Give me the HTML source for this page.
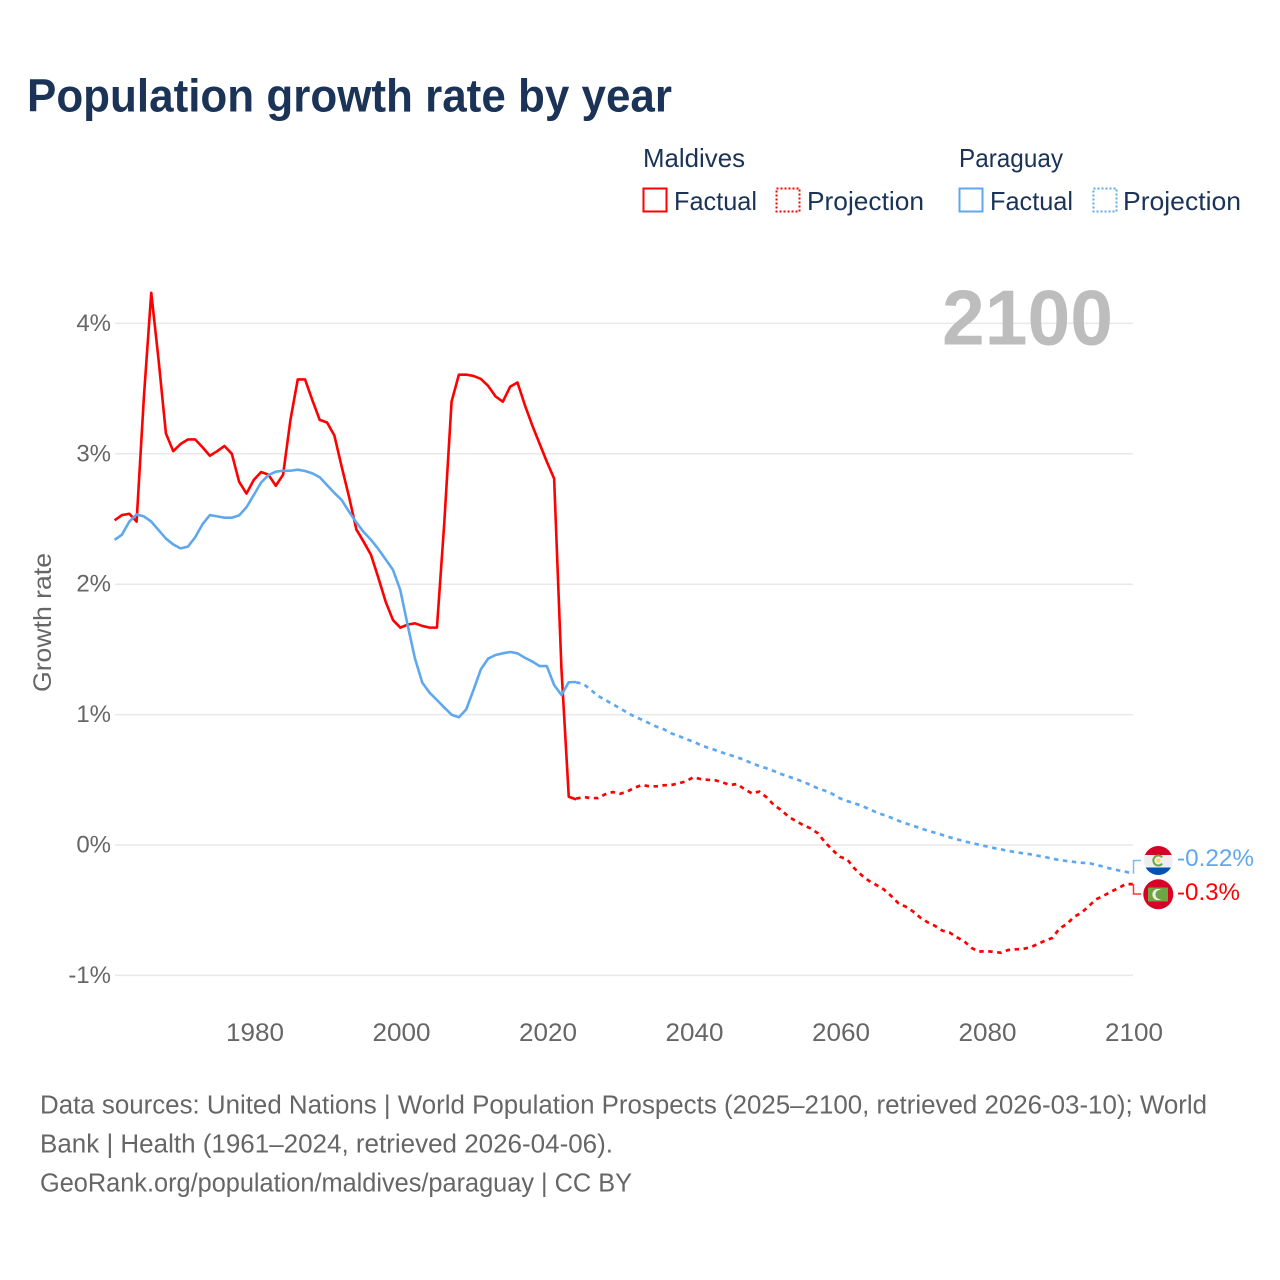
<!DOCTYPE html>
<html lang="en">
<head>
<meta charset="utf-8">
<title>Population growth rate by year</title>
<style>
html,body{margin:0;padding:0;background:#fff;width:1280px;height:1280px;overflow:hidden}
svg{display:block}
text{font-family:"Liberation Sans",sans-serif}
</style>
</head>
<body>
<svg id="chart" width="1280" height="1280" viewBox="0 0 1280 1280" xmlns="http://www.w3.org/2000/svg">
  <text x="27" y="111.5" font-size="46" font-weight="700" fill="#1a3356" textLength="645" lengthAdjust="spacingAndGlyphs">Population growth rate by year</text>

  <g font-size="26" fill="#1a3356">
    <text x="643" y="167" textLength="102" lengthAdjust="spacingAndGlyphs">Maldives</text>
    <text x="959" y="167" textLength="104" lengthAdjust="spacingAndGlyphs">Paraguay</text>
    <g>
      <rect x="643.5" y="188.5" width="23" height="23" fill="none" stroke="#ff0000" stroke-width="2"/>
      <text x="674" y="210" textLength="83" lengthAdjust="spacingAndGlyphs">Factual</text>
    </g>
    <g>
      <rect x="776.5" y="188.5" width="23" height="23" fill="none" stroke="#ff0000" stroke-width="2" stroke-dasharray="2 2"/>
      <text x="807" y="210" textLength="117" lengthAdjust="spacingAndGlyphs">Projection</text>
    </g>
    <g>
      <rect x="959.5" y="188.5" width="23" height="23" fill="none" stroke="#5fa8ee" stroke-width="2"/>
      <text x="990" y="210" textLength="83" lengthAdjust="spacingAndGlyphs">Factual</text>
    </g>
    <g>
      <rect x="1093.5" y="188.5" width="23" height="23" fill="none" stroke="#5fa8ee" stroke-width="2" stroke-dasharray="2 2"/>
      <text x="1123" y="210" textLength="118" lengthAdjust="spacingAndGlyphs">Projection</text>
    </g>
  </g>

  <text transform="translate(51,692) rotate(-90)" font-size="25" fill="#666" textLength="139" lengthAdjust="spacingAndGlyphs">Growth rate</text>

  <g id="grid"></g>
  <g id="yticks"></g>
  <g id="xticks"></g>

  <text x="942" y="344.5" font-size="78" font-weight="700" fill="#bdbdbd" textLength="171" lengthAdjust="spacingAndGlyphs">2100</text>

  <g id="series"></g>

  <g>
    <clipPath id="clip-py"><circle cx="1158.3" cy="860.5" r="14.5"/></clipPath>
    <g clip-path="url(#clip-py)">
      <rect x="1143" y="845" width="31" height="11" fill="#d80027"/>
      <rect x="1143" y="855" width="31" height="13" fill="#eeeeee"/>
      <rect x="1143" y="867.5" width="31" height="10" fill="#0052b4"/>
    </g>
    <path d="M1162.2 857.3 A5 5 0 1 0 1162.2 863.7" fill="none" stroke="#6da544" stroke-width="2"/>
    <circle cx="1158.4" cy="860.5" r="2" fill="#ffda44"/>
  </g>
  <g>
    <circle cx="1158.3" cy="894.3" r="15" fill="#d80027"/>
    <rect x="1148" y="887.5" width="20" height="14" fill="#6da544"/>
    <circle cx="1158" cy="894.5" r="5.6" fill="#f0f0f0"/>
    <circle cx="1160.2" cy="894.5" r="4.8" fill="#6da544"/>
  </g>

  <g id="endlabels"></g>

  <g font-size="25.5" fill="#666">
    <text x="40" y="1113.5" textLength="1167" lengthAdjust="spacingAndGlyphs">Data sources: United Nations | World Population Prospects (2025–2100, retrieved 2026-03-10); World</text>
    <text x="40" y="1152.5" textLength="573" lengthAdjust="spacingAndGlyphs">Bank | Health (1961–2024, retrieved 2026-04-06).</text>
    <text x="40" y="1191.5" textLength="592" lengthAdjust="spacingAndGlyphs">GeoRank.org/population/maldives/paraguay | CC BY</text>
  </g>
</svg>

<script>
const xTickYears = [1980, 2000, 2020, 2040, 2060, 2080, 2100];
const yTickValues = [4, 3, 2, 1, 0, -1];
const factualStartYear = 1961;
const projectionStartYear = 2024;

const maldivesFactual = [2.49,2.53,2.54,2.48,3.44,4.235,3.72,3.157,3.02,3.075,3.11,3.11,3.05,2.985,3.02,3.06,3.0,2.785,2.695,2.80,2.86,2.84,2.755,2.84,3.26,3.57,3.57,3.41,3.26,3.24,3.14,2.90,2.67,2.42,2.325,2.225,2.05,1.866,1.725,1.667,1.69,1.70,1.68,1.667,1.667,2.467,3.40,3.607,3.607,3.597,3.574,3.52,3.44,3.40,3.515,3.547,3.374,3.22,3.08,2.94,2.81,1.35,0.37,0.35];

const maldivesProjection = [0.355,0.368,0.36,0.36,0.39,0.406,0.393,0.41,0.44,0.46,0.45,0.45,0.458,0.46,0.473,0.488,0.52,0.506,0.50,0.496,0.48,0.46,0.468,0.427,0.396,0.41,0.366,0.307,0.268,0.217,0.184,0.153,0.128,0.09,0.02,-0.038,-0.09,-0.11,-0.18,-0.233,-0.276,-0.307,-0.34,-0.39,-0.447,-0.473,-0.51,-0.557,-0.593,-0.62,-0.657,-0.672,-0.708,-0.74,-0.79,-0.818,-0.813,-0.82,-0.826,-0.805,-0.80,-0.797,-0.785,-0.76,-0.734,-0.713,-0.64,-0.606,-0.55,-0.52,-0.468,-0.416,-0.39,-0.358,-0.332,-0.30,-0.30];

const paraguayFactual = [2.34,2.38,2.48,2.535,2.52,2.48,2.415,2.35,2.305,2.275,2.288,2.36,2.46,2.53,2.52,2.51,2.51,2.528,2.59,2.684,2.78,2.837,2.863,2.87,2.87,2.878,2.868,2.85,2.82,2.76,2.70,2.645,2.556,2.474,2.40,2.34,2.27,2.19,2.11,1.955,1.687,1.43,1.245,1.168,1.112,1.055,0.999,0.98,1.04,1.19,1.347,1.43,1.457,1.47,1.48,1.47,1.436,1.408,1.372,1.372,1.227,1.15,1.248,1.25];

const paraguayProjection = [1.248,1.235,1.19,1.143,1.112,1.079,1.048,1.015,0.984,0.96,0.933,0.907,0.887,0.856,0.836,0.813,0.792,0.767,0.746,0.728,0.708,0.69,0.672,0.652,0.626,0.606,0.588,0.567,0.544,0.524,0.506,0.485,0.46,0.435,0.416,0.391,0.358,0.337,0.32,0.30,0.276,0.25,0.23,0.21,0.186,0.166,0.148,0.128,0.11,0.094,0.077,0.059,0.044,0.028,0.015,0.002,-0.01,-0.023,-0.033,-0.046,-0.054,-0.064,-0.071,-0.082,-0.092,-0.105,-0.115,-0.123,-0.13,-0.136,-0.138,-0.153,-0.166,-0.182,-0.194,-0.205,-0.22];

const maldivesEndLabel = "-0.3%";
const paraguayEndLabel = "-0.22%";

const NS = "http://www.w3.org/2000/svg";
const plotLeft = 115;
const plotRight = 1133;

function xScale(year) { return 255 + (year - 1980) * 7.325; }
function yScale(value) { return 845 - value * 130.4; }

function make(tag, attrs, parent) {
  const el = document.createElementNS(NS, tag);
  for (const k in attrs) el.setAttribute(k, attrs[k]);
  parent.appendChild(el);
  return el;
}

function linePath(values, startYear) {
  return values.map(function (v, i) {
    return (i ? "L" : "M") + (xScale(startYear + i) - 1.2).toFixed(2) + " " + yScale(v).toFixed(2);
  }).join(" ");
}

const grid = document.getElementById("grid");
const yticks = document.getElementById("yticks");
const xticks = document.getElementById("xticks");
const series = document.getElementById("series");
const endlabels = document.getElementById("endlabels");

yTickValues.forEach(function (v) {
  const line = make("line", { x1: plotLeft, x2: plotRight, y1: yScale(v), y2: yScale(v), stroke: "#e9e9e9", "stroke-width": 1.5 }, grid);
  
  
  const label = make("text", { x: 111, y: yScale(v) + 7.5, "text-anchor": "end", "font-size": 24, fill: "#666" }, yticks);
  
  
  label.textContent = v + "%";
});

xTickYears.forEach(function (year) {
  const label = make("text", { x: xScale(year), y: 1041, "text-anchor": "middle", "font-size": 25, fill: "#666", textLength: 58, lengthAdjust: "spacingAndGlyphs" }, xticks);
  
  
  label.textContent = year;
});

const RED = "#ff0000";
const BLUE = "#5fa8ee";

const projRed = make("path", { d: linePath(maldivesProjection, projectionStartYear), fill: "none", stroke: RED, "stroke-width": 2.7, "stroke-dasharray": "4.5 4.5" }, series);



const factRed = make("path", { d: linePath(maldivesFactual, factualStartYear), fill: "none", stroke: RED, "stroke-width": 2.6, "stroke-linejoin": "round" }, series);



const projBlue = make("path", { d: linePath(paraguayProjection, projectionStartYear), fill: "none", stroke: BLUE, "stroke-width": 2.7, "stroke-dasharray": "4.5 4.5" }, series);



const factBlue = make("path", { d: linePath(paraguayFactual, factualStartYear), fill: "none", stroke: BLUE, "stroke-width": 2.6, "stroke-linejoin": "round" }, series);



const lastBlue = yScale(paraguayProjection[paraguayProjection.length - 1]);
const lastRed = yScale(maldivesProjection[maldivesProjection.length - 1]);

const connBlue = make("polyline", { points: "1133.5," + lastBlue + " 1133.5,860.5 1141,860.5", fill: "none", stroke: BLUE, "stroke-width": 1.5, opacity: 0.8 }, endlabels);



const connRed = make("polyline", { points: "1133.5," + lastRed + " 1133.5,894 1141,894", fill: "none", stroke: RED, "stroke-width": 1.5, opacity: 0.8 }, endlabels);



const labelBlue = make("text", { x: 1177, y: 866, "font-size": 24, fill: BLUE, textLength: 77, lengthAdjust: "spacingAndGlyphs" }, endlabels);


labelBlue.textContent = paraguayEndLabel;

const labelRed = make("text", { x: 1177, y: 900, "font-size": 24, fill: RED, textLength: 63, lengthAdjust: "spacingAndGlyphs" }, endlabels);


labelRed.textContent = maldivesEndLabel;
</script>
</body>
</html>
